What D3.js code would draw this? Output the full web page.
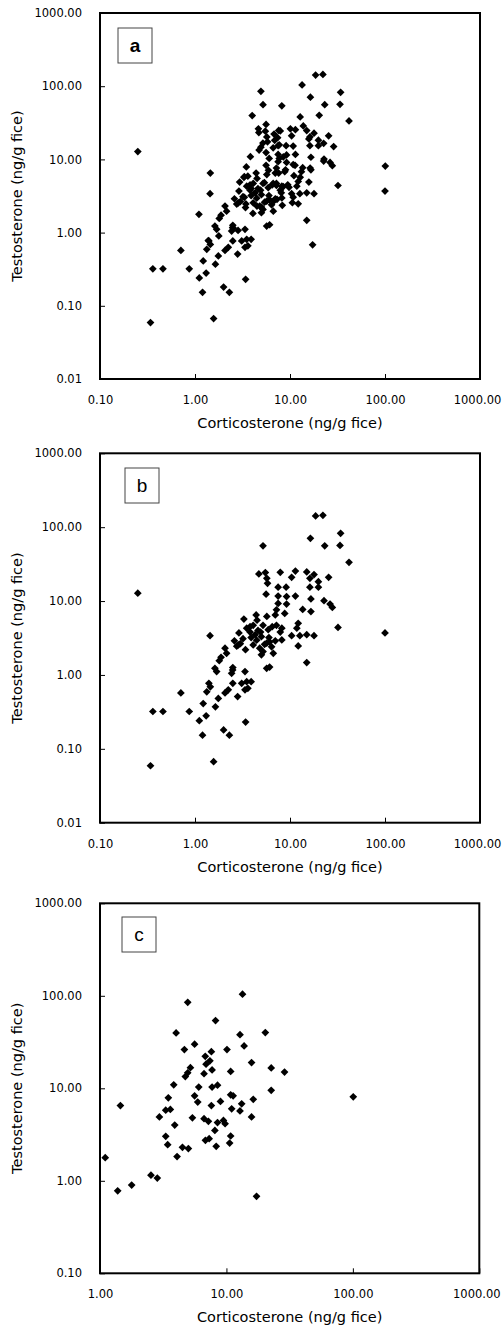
<!DOCTYPE html>
<html>
<head>
<meta charset="utf-8">
<script src="https://cdn.jsdelivr.net/npm/d3@7"></script>
<style>
  body { margin: 0; background: #fff; }
  svg { display: block; }
</style>
</head>
<body>
<div id="chart"></div>
<script>
// panel b values (ng/g fice)
var bCort = [0.25, 18.6, 22.2, 34.1, 16.4, 5.2, 23.2, 33.6, 41.8, 4.7,
    5.5, 7.9, 11.4, 15, 17.9, 25.5, 5.7, 10.4, 16.2, 19.9,
    5.8, 7.5, 9.1, 16.2, 19.9, 5.6, 7.5, 9.2, 11.4, 16.6,
    22.8, 26.4, 27.9, 7.5, 9.2, 13.6, 16.6, 7.2, 7.0, 8.8,
    4.4, 3.27, 4.5, 5.2, 7.2, 12.2, 3.8, 4.1, 8.2, 11.8,
    32, 2.9, 3.8, 4.9, 5.9, 7.9, 1.44, 100, 10.4, 12.7,
    15, 17.9, 8.2, 12.2, 2.86, 2.75, 3.0, 2.07, 2.15, 4.1,
    4.46, 5.2, 5.0, 5.68, 6.1, 6.67, 1.8, 1.88, 1.62, 1.69,
    2.49, 2.5, 2.43, 3.36, 5.68, 6.1, 15, 1.4, 1.45, 1.33,
    2.5, 3.1, 3.5, 3.9, 3.6, 3.36, 2.24, 2.07, 2.81, 1.76,
    0.71, 1.22, 1.64, 0.36, 0.46, 0.87, 1.31, 1.11, 3.41, 2.0,
    1.2, 2.3, 1.57, 0.34, 2.6, 3.2, 3.5, 3.9, 4.3, 4.6,
    5.0, 5.4, 6.0, 6.4, 7.0, 3.4, 4.8, 6.5, 5.7];
var bTest = [12.8, 142, 145, 82.6, 70.7, 56, 56, 56.6, 33.5, 23.3,
    24.3, 24.5, 25.5, 24.8, 22.8, 21, 20.3, 21, 20.3, 18.3,
    17.4, 15.4, 15.4, 15.4, 15.4, 12.4, 11.7, 11.5, 11.7, 10.7,
    10.1, 9.1, 8.2, 9.3, 9.1, 7.7, 7.2, 7.6, 6.5, 6.8,
    6.5, 5.7, 5.5, 4.7, 4.7, 5.0, 4.5, 4.7, 4.3, 4.3,
    4.4, 3.7, 3.8, 3.8, 4.1, 3.8, 3.4, 3.7, 3.4, 3.4,
    3.5, 3.4, 2.98, 2.47, 2.55, 2.45, 2.65, 2.3, 1.96, 2.55,
    2.95, 2.07, 1.87, 2.69, 2.8, 1.96, 1.56, 1.73, 1.23, 1.11,
    1.17, 1.26, 1.05, 1.11, 1.23, 1.28, 1.47, 0.77, 0.69, 0.59,
    0.77, 0.77, 0.81, 0.81, 0.66, 0.63, 0.63, 0.57, 0.51, 0.48,
    0.57, 0.41, 0.37, 0.32, 0.32, 0.32, 0.28, 0.24, 0.23, 0.18,
    0.153, 0.153, 0.067, 0.059, 2.9, 3.1, 4.3, 3.2, 3.5, 4.0,
    3.3, 2.6, 3.2, 2.4, 2.9, 2.2, 2.3, 4.5, 6.2];

// panel c values (ng/g fice)
var cCort = [13.4, 4.94, 8.2, 4.0, 12.8, 20.3, 5.6, 4.65, 13.8, 10.1,
    7.6, 6.8, 7.4, 6.9, 15.8, 5.19, 4.94, 4.73, 7.7, 6.65,
    10.8, 22.6, 28.8, 3.83, 6.04, 7.7, 8.5, 22.6, 3.47, 5.6,
    10.8, 11.3, 16.3, 5.93, 8.97, 1.45, 7.6, 13.2, 3.31, 3.6,
    11.0, 12.8, 2.95, 5.38, 6.65, 7.2, 8.5, 9.47, 9.76, 15.8,
    3.9, 8.1, 3.31, 10.8, 6.82, 7.3, 3.43, 10.6, 8.3, 4.49,
    5.0, 4.07, 1.1, 2.53, 2.84, 1.78, 1.38, 17.3, 100.7];
var cTest = [104, 85, 54, 39.7, 38, 40, 30, 26.2, 28.7, 26.2,
    24.9, 22.2, 19.8, 18.2, 19, 16.7, 14.7, 13.4, 15.8, 14.4,
    15.2, 16.6, 15, 10.9, 10.3, 10.3, 10.8, 9.5, 7.9, 8.3,
    8.5, 8.3, 7.6, 7.1, 7.2, 6.5, 6.5, 6.8, 5.8, 5.9,
    6.0, 5.7, 4.9, 4.8, 4.7, 4.4, 4.26, 4.5, 4.15, 4.9,
    4.0, 3.5, 3.03, 3.05, 2.74, 2.85, 2.46, 2.56, 2.36, 2.3,
    2.23, 1.83, 1.78, 1.15, 1.07, 0.9, 0.78, 0.68, 8.1];

// panel a = all samples (b + c)
var aCort = bCort.concat(cCort);
var aTest = bTest.concat(cTest);

// tick values
var xTicksAB = [0.1, 1, 10, 100, 1000];
var yTicksAB = [0.01, 0.1, 1, 10, 100, 1000];
var xTicksC = [1, 10, 100, 1000];
var yTicksC = [0.1, 1, 10, 100, 1000];

var panelLabels = ['a', 'b', 'c'];
var xTitle = 'Corticosterone (ng/g fice)';
var yTitle = 'Testosterone (ng/g fice)';

var chart_width = 502;
var chart_height = 1327;
var tickFont = 'DejaVu Sans';

var svg = d3.select('#chart')
    .append('svg')
    .attr('width', chart_width)
    .attr('height', chart_height);

var panels = [
    { cort: aCort, test: aTest, xTicks: xTicksAB, yTicks: yTicksAB, top: 13, bottom: 379, right: 480, box: [118, 28] },
    { cort: bCort, test: bTest, xTicks: xTicksAB, yTicks: yTicksAB, top: 453.3, bottom: 822.7, right: 480, box: [125, 468] },
    { cort: cCort, test: cTest, xTicks: xTicksC, yTicks: yTicksC, top: 903.3, bottom: 1273.3, right: 479.3, box: [122, 917] }
];

var fmt = d3.format('.2f');

panels.forEach(function (p, pi) {
    var left = 100;
    var x_scale = d3.scaleLog()
        .domain([p.xTicks[0], p.xTicks[p.xTicks.length - 1]])
        .range([left, p.right]);
    var y_scale = d3.scaleLog()
        .domain([p.yTicks[0], p.yTicks[p.yTicks.length - 1]])
        .range([p.bottom, p.top]);

    var g = svg.append('g');

    // x axis, ticks pointing inside
    var xa = g.append('g')
        .attr('transform', 'translate(0,' + p.bottom + ')')
        .call(d3.axisBottom(x_scale)
            .tickValues(p.xTicks)
            .tickFormat(fmt)
            .tickSizeInner(-5)
            .tickSizeOuter(0)
            .tickPadding(17));
    // y axis
    var ya = g.append('g')
        .attr('transform', 'translate(' + left + ',0)')
        .call(d3.axisLeft(y_scale)
            .tickValues(p.yTicks)
            .tickFormat(fmt)
            .tickSizeInner(-5)
            .tickSizeOuter(0)
            .tickPadding(18));

    [xa, ya].forEach(function (a) {
        a.select('.domain').remove();
        a.selectAll('line').attr('stroke', '#000');
        a.selectAll('text')
            .attr('fill', '#000')
            .attr('font-family', tickFont)
            .attr('font-size', 11.5);
    });
    // last x label sits at the page edge, nudge it in
    xa.selectAll('.tick:last-of-type text').attr('dx', -3);

    // plot frame
    g.append('rect')
        .attr('x', left)
        .attr('y', p.top)
        .attr('width', p.right - left)
        .attr('height', p.bottom - p.top)
        .attr('fill', 'none')
        .attr('stroke', '#000')
        .attr('stroke-width', 2);

    // diamonds
    var diamond = d3.symbol().type(d3.symbolSquare).size(30);
    g.selectAll('path.pt')
        .data(d3.range(p.cort.length))
        .enter()
        .append('path')
        .attr('class', 'pt')
        .attr('d', diamond)
        .attr('fill', '#000')
        .attr('transform', function (i) {
            return 'translate(' + x_scale(p.cort[i]) + ',' + y_scale(p.test[i]) + ') rotate(45)';
        });

    // panel letter box
    g.append('rect')
        .attr('x', p.box[0])
        .attr('y', p.box[1])
        .attr('width', 34)
        .attr('height', 35)
        .attr('fill', '#fff')
        .attr('stroke', '#444')
        .attr('stroke-width', 1);
    g.append('text')
        .text(panelLabels[pi])
        .attr('x', p.box[0] + 17)
        .attr('y', p.box[1] + 24)
        .attr('text-anchor', 'middle')
        .attr('font-family', 'Liberation Sans')
        .attr('font-size', 19)
        .attr('font-weight', pi === 0 ? 'bold' : 'normal');

    // axis titles
    g.append('text')
        .text(xTitle)
        .attr('x', (left + p.right) / 2)
        .attr('y', p.bottom + 49)
        .attr('text-anchor', 'middle')
        .attr('font-family', tickFont)
        .attr('font-size', 14.5);
    g.append('text')
        .text(yTitle)
        .attr('transform', 'translate(22,' + (p.top + p.bottom) / 2 + ') rotate(-90)')
        .attr('text-anchor', 'middle')
        .attr('font-family', tickFont)
        .attr('font-size', 14.5);
});
</script>
</body>
</html>
